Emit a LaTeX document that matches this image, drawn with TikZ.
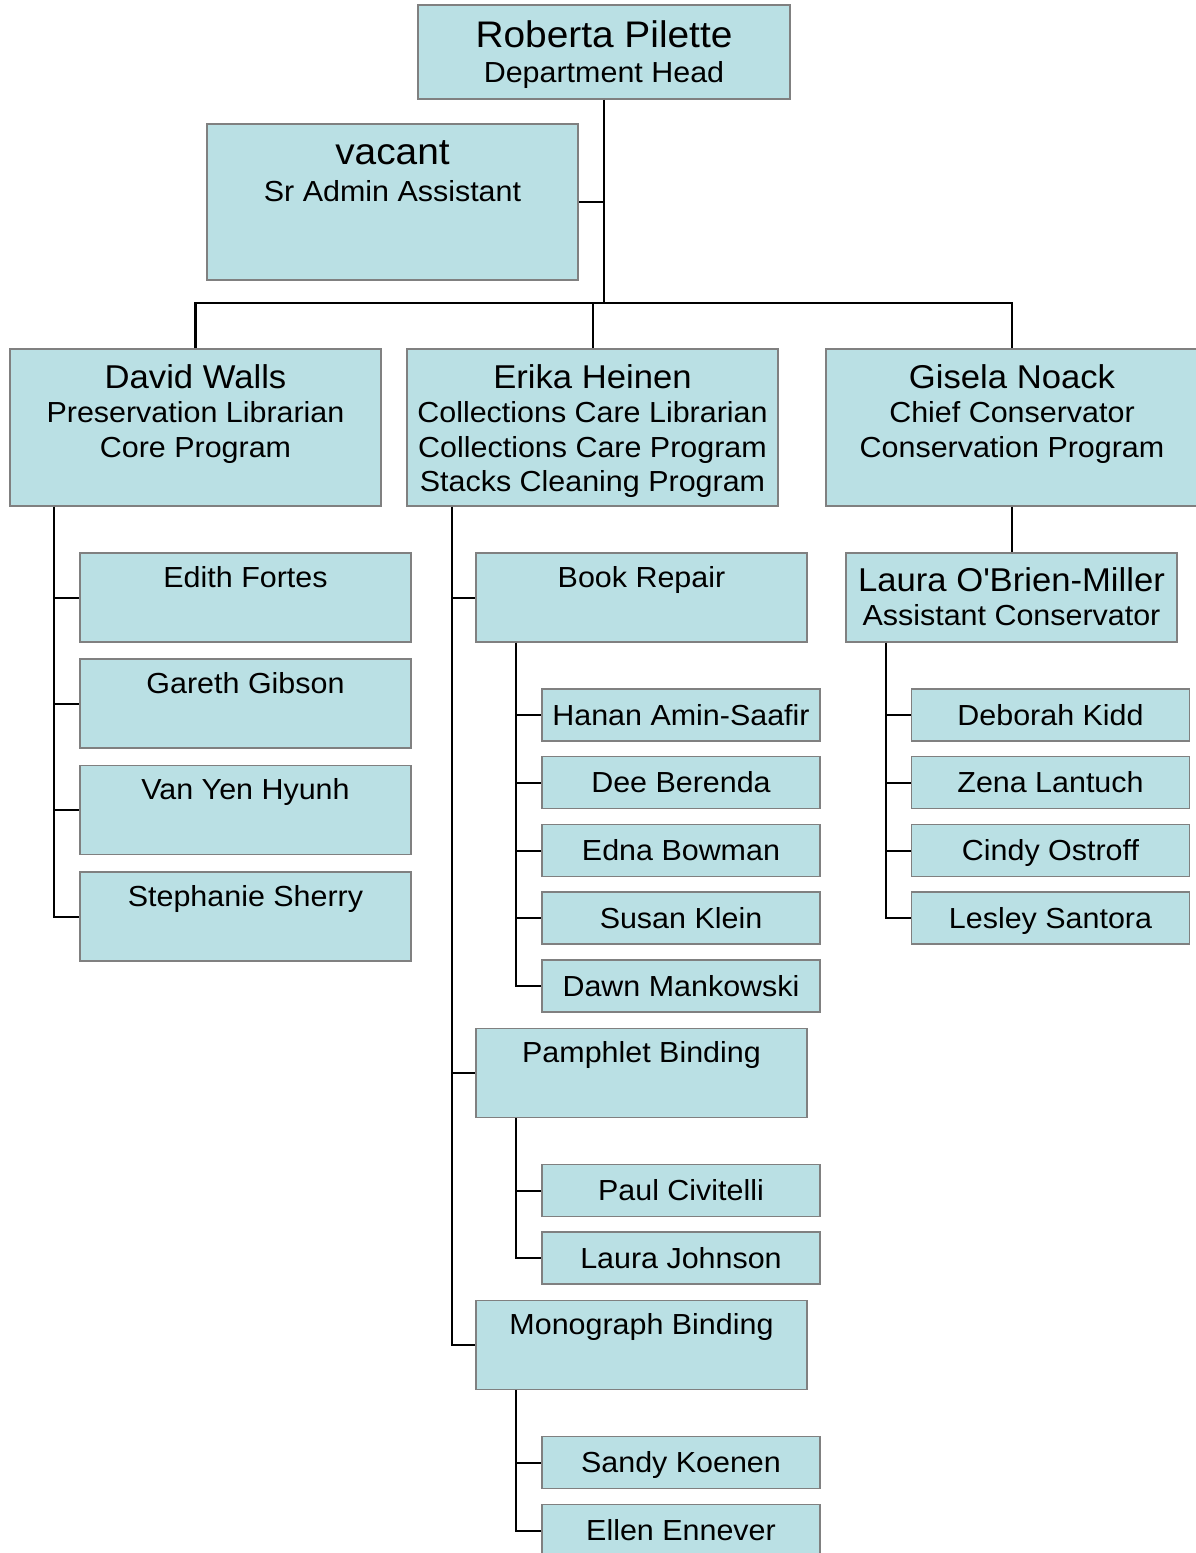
\documentclass[tikz,border=0pt]{standalone}
\usepackage{fontspec}
\setmainfont{Liberation Sans}[FakeStretch=1.05]
\definecolor{boxfill}{RGB}{186,224,228}
\definecolor{boxline}{RGB}{128,128,128}
\newcommand\smallfont{\fontsize{29}{34.5}\selectfont}
\newcommand\namefont{\fontsize{33}{34.5}\selectfont}
\newcommand\bigfont{\fontsize{37}{34.5}\selectfont}
\newcommand\firstline{\rule{0pt}{30pt}}
\tikzset{
  box/.style={draw=boxline, fill=boxfill, line width=1.8pt, inner sep=0pt},
  headbox/.style={box, minimum width=371pt, minimum height=157pt},
  unitbox/.style={box, minimum width=331pt, minimum height=89pt},
  staffbox/.style={box, minimum width=278pt, minimum height=52pt,
    text height=20.5pt, text depth=0pt, font=\smallfont},
  toptext/.style={anchor=north, inner sep=0pt, align=center, font=\smallfont},
  link/.style={line width=2pt},
  trunk/.style={line width=2.6pt}
}
\begin{document}
\begin{tikzpicture}[x=1pt, y=-1pt]
  \useasboundingbox (0,0) rectangle (1195,1553);

  % department head and admin
  \node[box, minimum width=372pt, minimum height=94pt] (head) at (604,52) {};
  \node[toptext] (head-txt) at ([yshift=-13pt]head.north)
    {\firstline{\bigfont Roberta Pilette}\\[1pt]Department Head};
  \node[box, minimum width=371pt, minimum height=156pt] (admin) at (392.5,202) {};
  \node[toptext] (admin-txt) at ([yshift=-11pt]admin.north)
    {\firstline{\bigfont vacant}\\[3pt]Sr Admin Assistant};

  % programs
  \node[headbox] (walls) at (195.5,427.5) {};
  \node[toptext] (walls-txt) at ([yshift=-10pt]walls.north)
    {\firstline{\namefont David Walls}\\Preservation Librarian\\Core Program};
  \node[headbox] (heinen) at (592.5,427.5) {};
  \node[toptext] (heinen-txt) at ([yshift=-10pt]heinen.north)
    {\firstline{\namefont Erika Heinen}\\Collections Care Librarian\\Collections Care Program\\Stacks Cleaning Program};
  \node[headbox, minimum width=372pt] (noack) at (1012,427.5) {};
  \node[toptext] (noack-txt) at ([yshift=-10pt]noack.north)
    {\firstline{\namefont Gisela Noack}\\Chief Conservator\\Conservation Program};

  % units
  \foreach \n/\x/\y/\t in {fortes/245.5/597.5/Edith Fortes, gibson/245.5/703.5/Gareth Gibson,
      hyunh/245.5/810/Van Yen Hyunh, sherry/245.5/916.5/Stephanie Sherry,
      repair/641.5/597.5/Book Repair, pamphlet/641.5/1073/Pamphlet Binding,
      monograph/641.5/1345/Monograph Binding} {
    \node[unitbox] (\n) at (\x,\y) {};
    \node[toptext] (\n-txt) at ([yshift=-5pt]\n.north) {\firstline\t};
  }
  \node[unitbox] (obrien) at (1011.5,597.5) {};
  \node[toptext] (obrien-txt) at ([yshift=-9pt]obrien.north)
    {\firstline{\namefont Laura O\textquotesingle Brien-Miller}\\Assistant Conservator};

  % staff
  \foreach \n/\x/\y/\t in {amin/681/715/Hanan Amin-Saafir, berenda/681/782.5/Dee Berenda,
      bowman/681/850.5/Edna Bowman, klein/681/918/Susan Klein, mankowski/681/986/Dawn Mankowski,
      civitelli/681/1190.5/Paul Civitelli, johnson/681/1258/Laura Johnson,
      koenen/681/1462.5/Sandy Koenen, ennever/681/1530.5/Ellen Ennever,
      kidd/1050.5/715/Deborah Kidd, lantuch/1050.5/782.5/Zena Lantuch,
      ostroff/1050.5/850.5/Cindy Ostroff, santora/1050.5/918/Lesley Santora}
    \node[staffbox] (\n) at (\x,\y) {\t};

  % connectors
  \coordinate (bus) at (604,303);
  \draw[trunk] (head.south) -- (bus);
  \draw[link] (head.south) |- (admin.east);
  \draw[trunk] (walls.north) |- (bus) -| (noack.north);
  \draw[link] (heinen.north) -- (heinen.north |- bus);
  \draw[link] (noack.south) -- (noack.south |- obrien.north);

  \coordinate (walls-spine) at ([xshift=45pt]walls.south west);
  \foreach \n in {fortes,gibson,hyunh,sherry}
    \draw[link] (walls-spine) |- (\n.west);
  \coordinate (heinen-spine) at ([xshift=46pt]heinen.south west);
  \foreach \n in {repair,pamphlet,monograph}
    \draw[link] (heinen-spine) |- (\n.west);
  \coordinate (repair-spine) at ([xshift=41pt]repair.south west);
  \foreach \n in {amin,berenda,bowman,klein,mankowski}
    \draw[link] (repair-spine) |- (\n.west);
  \coordinate (pamphlet-spine) at ([xshift=41pt]pamphlet.south west);
  \foreach \n in {civitelli,johnson}
    \draw[link] (pamphlet-spine) |- (\n.west);
  \coordinate (monograph-spine) at ([xshift=41pt]monograph.south west);
  \foreach \n in {koenen,ennever}
    \draw[link] (monograph-spine) |- (\n.west);
  \coordinate (obrien-spine) at ([xshift=41pt]obrien.south west);
  \foreach \n in {kidd,lantuch,ostroff,santora}
    \draw[link] (obrien-spine) |- (\n.west);
\end{tikzpicture}
\end{document}
